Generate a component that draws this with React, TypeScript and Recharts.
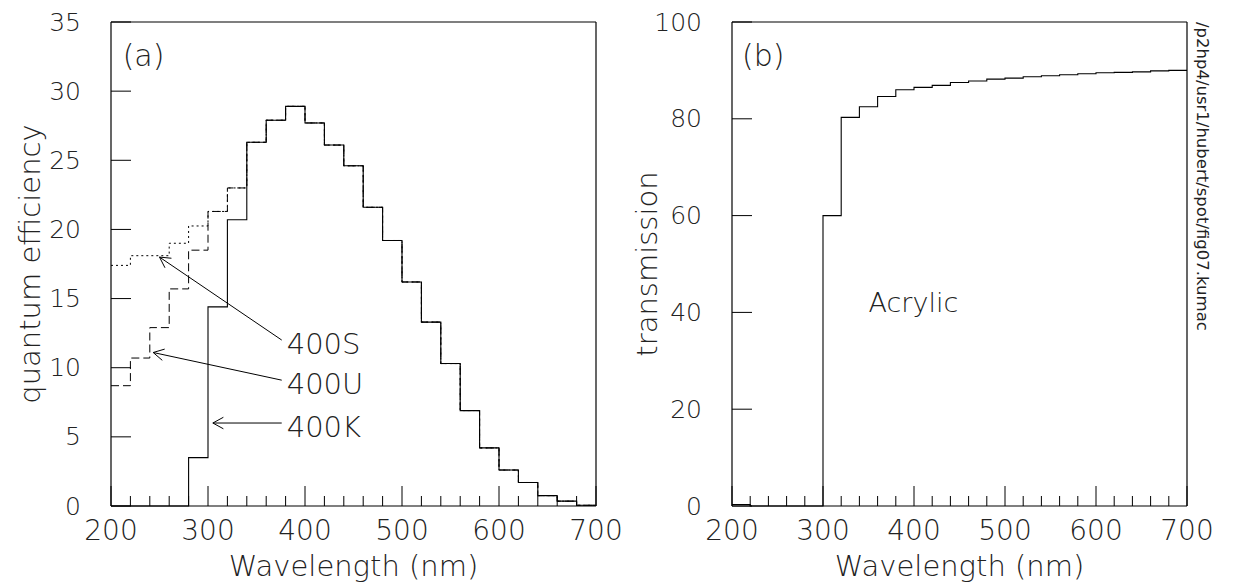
import React from 'react';
import { LineChart, Line, XAxis, YAxis, ReferenceLine, ReferenceDot } from 'recharts';

// bin edges in nm (20 nm bins, last edge closes the histogram)
const binEdges = [200, 220, 240, 260, 280, 300, 320, 340, 360, 380, 400, 420, 440, 460, 480, 500, 520, 540, 560, 580, 600, 620, 640, 660, 680, 700];

// quantum efficiency (%) per bin
const qe400K = [0, 0, 0, 0, 3.5, 14.4, 20.7, 26.3, 27.9, 28.9, 27.7, 26.1, 24.6, 21.6, 19.2, 16.2, 13.3, 10.3, 6.9, 4.2, 2.6, 1.7, 0.75, 0.35, 0.05];
const qe400U = [8.7, 10.7, 12.9, 15.7, 18.5, 21.3, 23.0, 26.3, 27.9, 28.9, 27.7, 26.1, 24.6, 21.6, 19.2, 16.2, 13.3, 10.3, 6.9, 4.2, 2.6, 1.7, 0.75, 0.35, 0.05];
const qe400S = [17.4, 18.1, 18.1, 19.0, 20.25, 21.3, 23.0, 26.3, 27.9, 28.9, 27.7, 26.1, 24.6, 21.6, 19.2, 16.2, 13.3, 10.3, 6.9, 4.2, 2.6, 1.7, 0.75, 0.35, 0.05];

// acrylic transmission (%) per bin, panel (b)
const acrylic = [0.3, 0, 0, 0, 0, 60, 80.3, 82.5, 84.6, 86.0, 86.5, 86.9, 87.5, 87.8, 88.2, 88.4, 88.7, 88.9, 89.1, 89.3, 89.5, 89.6, 89.7, 89.9, 90.0];

const wlLabels = [200, 300, 400, 500, 600, 700];
const qeTicks = [0, 5, 10, 15, 20, 25, 30, 35];
const trTicks = [0, 20, 40, 60, 80, 100];

const FONT = "'DejaVu Sans', sans-serif";
const INK = '#000';
const TXT = '#222';

const toRows = (series: Record<string, number[]>) =>
  binEdges.map((wl, i) => {
    const row: Record<string, number> = { wl };
    Object.keys(series).forEach((k) => {
      row[k] = series[k][Math.min(i, series[k].length - 1)];
    });
    return row;
  });

const qeRows = toRows({ k: qe400K, u: qe400U, s: qe400S });
const trRows = toRows({ t: acrylic });

const XTick = ({ x, y, payload }: any) => {
  const major = wlLabels.includes(payload.value);
  return (
    <g>
      <line x1={x} x2={x} y1={y} y2={y - (major ? 20 : 10)} stroke={INK} strokeWidth={1} />
      {major && (
        <text x={x} y={y + 34} textAnchor="middle" fontSize={28} fontFamily={FONT} fontWeight={200} fill={TXT}>
          {payload.value}
        </text>
      )}
    </g>
  );
};

const YTick = ({ x, y, payload }: any) => (
  <g>
    <line x1={x} x2={x + 20} y1={y} y2={y} stroke={INK} strokeWidth={1} />
    <text x={x - 30} y={y + 8.5} textAnchor="end" fontSize={25} fontFamily={FONT} fontWeight={200} fill={TXT}>
      {payload.value}
    </text>
  </g>
);

const arrow = (label: string) => (p: any) => {
  const { x1, y1, x2, y2 } = p;
  const ang = Math.atan2(y1 - y2, x1 - x2);
  const L = 12;
  const s = 0.5;
  const h1 = `${x2 + L * Math.cos(ang + s)},${y2 + L * Math.sin(ang + s)}`;
  const h2 = `${x2 + L * Math.cos(ang - s)},${y2 + L * Math.sin(ang - s)}`;
  return (
    <g>
      <line x1={x1} y1={y1} x2={x2} y2={y2} stroke={INK} strokeWidth={1} />
      <polyline points={`${h1} ${x2},${y2} ${h2}`} fill="none" stroke={INK} strokeWidth={1} />
      <text x={x1 + 5} y={y1 + 14} fontSize={29} fontFamily={FONT} fontWeight={200} fill={TXT}>
        {label}
      </text>
    </g>
  );
};

const textAt = (str: string, size: number) => (p: any) => (
  <text x={p.cx} y={p.cy} fontSize={size} fontFamily={FONT} fontWeight={200} fill={TXT}>
    {str}
  </text>
);

const xTitle = (p: any) => {
  const vb = p.viewBox || {};
  return (
    <text x={vb.x + vb.width / 2} y={vb.y + 70} textAnchor="middle" fontSize={29} fontFamily={FONT} fontWeight={200} fill={TXT}>
      Wavelength (nm)
    </text>
  );
};

const yTitle = (str: string, dx: number) => (p: any) => {
  const vb = p.viewBox || {};
  const x = vb.x + dx;
  const y = vb.y + vb.height / 2;
  return (
    <text x={x} y={y} transform={`rotate(-90, ${x}, ${y})`} textAnchor="middle" fontSize={29} fontFamily={FONT} fontWeight={200} fill={TXT}>
      {str}
    </text>
  );
};

const pathNote = (p: any) => {
  const vb = p.viewBox || {};
  const x = vb.x + 10;
  const y = vb.y;
  return (
    <text x={x} y={y} transform={`rotate(90, ${x}, ${y})`} fontSize={16.5} fontFamily={FONT} fill={TXT}>
      /p2hp4/usr1/hubert/spot/fig07.kumac
    </text>
  );
};

export default function App() {
  return (
    <div style={{ position: 'absolute', left: 0, top: 0, width: 1256, height: 586, background: '#fff' }}>
      <div style={{ position: 'absolute', left: 0, top: 0 }}>
        <LineChart width={640} height={586} data={qeRows} margin={{ top: 0, right: 0, bottom: 0, left: 0 }}>
          <XAxis xAxisId="t" orientation="top" dataKey="wl" type="number" domain={[200, 700]} height={22} tick={false} tickLine={false} axisLine={{ stroke: INK, strokeWidth: 1.2 }} />
          <XAxis
            xAxisId="b"
            dataKey="wl"
            type="number"
            domain={[200, 700]}
            ticks={binEdges}
            interval={0}
            height={80}
            tickSize={0}
            tickMargin={0}
            tick={<XTick />}
            axisLine={{ stroke: INK, strokeWidth: 1.2 }}
            label={xTitle}
          />
          <YAxis
            yAxisId="l"
            type="number"
            domain={[0, 35]}
            ticks={qeTicks}
            interval={0}
            width={111}
            tickSize={0}
            tickMargin={0}
            tick={<YTick />}
            axisLine={{ stroke: INK, strokeWidth: 1.2 }}
            label={yTitle('quantum efficiency', 40)}
          />
          <YAxis yAxisId="r" orientation="right" type="number" domain={[0, 35]} width={44} tick={false} tickLine={false} axisLine={{ stroke: INK, strokeWidth: 1.2 }} />
          <Line xAxisId="b" yAxisId="l" type="stepAfter" dataKey="s" stroke={INK} strokeWidth={1} strokeDasharray="2 3" dot={false} isAnimationActive={false} />
          <Line xAxisId="b" yAxisId="l" type="stepAfter" dataKey="u" stroke={INK} strokeWidth={1} strokeDasharray="8 4" dot={false} isAnimationActive={false} />
          <Line xAxisId="b" yAxisId="l" type="stepAfter" dataKey="k" stroke={INK} strokeWidth={1.1} dot={false} isAnimationActive={false} />
          <ReferenceLine xAxisId="b" yAxisId="l" segment={[{ x: 376, y: 12.0 }, { x: 250, y: 18.0 }]} shape={arrow('400S')} />
          <ReferenceLine xAxisId="b" yAxisId="l" segment={[{ x: 376, y: 9.1 }, { x: 243.5, y: 11.1 }]} shape={arrow('400U')} />
          <ReferenceLine xAxisId="b" yAxisId="l" segment={[{ x: 376, y: 6.0 }, { x: 305, y: 6.0 }]} shape={arrow('400K')} />
          <ReferenceDot xAxisId="b" yAxisId="l" x={212} y={31.8} r={0} shape={textAt('(a)', 30)} />
        </LineChart>
      </div>
      <div style={{ position: 'absolute', left: 620, top: 0 }}>
        <LineChart width={636} height={586} data={trRows} margin={{ top: 0, right: 0, bottom: 0, left: 0 }}>
          <XAxis xAxisId="t" orientation="top" dataKey="wl" type="number" domain={[200, 700]} height={22} tick={false} tickLine={false} axisLine={{ stroke: INK, strokeWidth: 1.2 }} />
          <XAxis
            xAxisId="b"
            dataKey="wl"
            type="number"
            domain={[200, 700]}
            ticks={binEdges}
            interval={0}
            height={80}
            tickSize={0}
            tickMargin={0}
            tick={<XTick />}
            axisLine={{ stroke: INK, strokeWidth: 1.2 }}
            label={xTitle}
          />
          <YAxis
            yAxisId="l"
            type="number"
            domain={[0, 100]}
            ticks={trTicks}
            interval={0}
            width={112}
            tickSize={0}
            tickMargin={0}
            tick={<YTick />}
            axisLine={{ stroke: INK, strokeWidth: 1.2 }}
            label={yTitle('transmission', 37)}
          />
          <YAxis yAxisId="r" orientation="right" type="number" domain={[0, 100]} width={69} tick={false} tickLine={false} axisLine={{ stroke: INK, strokeWidth: 1.2 }} label={pathNote} />
          <Line xAxisId="b" yAxisId="l" type="stepAfter" dataKey="t" stroke={INK} strokeWidth={1.1} dot={false} isAnimationActive={false} />
          <ReferenceDot xAxisId="b" yAxisId="l" x={211} y={90.9} r={0} shape={textAt('(b)', 30)} />
          <ReferenceDot xAxisId="b" yAxisId="l" x={350} y={40} r={0} shape={textAt('Acrylic', 27)} />
        </LineChart>
      </div>
    </div>
  );
}
